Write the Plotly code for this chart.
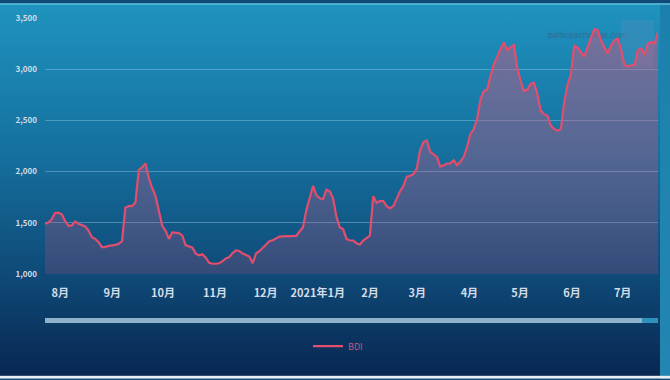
import base64
import pandas as pd
import plotly.graph_objects as go

# ---------------- data ----------------
start_date = "2020-07-23"
end_date = "2021-07-22"
bdi_values = [
    1490, 1503, 1535, 1595, 1600, 1583, 1519, 1471, 1475, 1513, 1490, 1475, 1465, 1423, 1360, 1343,
    1311, 1263, 1263, 1275, 1279, 1285, 1295, 1320, 1647, 1663, 1663, 1700, 2016, 2040, 2080, 1936,
    1840, 1760, 1615, 1471, 1423, 1343, 1407, 1407, 1400, 1375, 1279, 1270, 1257, 1199, 1183, 1192,
    1160, 1109, 1100, 1100, 1105, 1125, 1152, 1165, 1205, 1230, 1225, 1200, 1188, 1170, 1105, 1200,
    1222, 1255, 1290, 1320, 1330, 1345, 1365, 1368, 1370, 1372, 1372, 1372, 1415, 1455, 1620, 1740,
    1860, 1770, 1740, 1730, 1824, 1808, 1740, 1560, 1455, 1439, 1343, 1327, 1327, 1301, 1288, 1327,
    1353, 1375, 1760, 1695, 1712, 1712, 1663, 1641, 1663, 1743, 1808, 1860, 1950, 1960, 1975, 2032,
    2210, 2288, 2304, 2192, 2166, 2144, 2048, 2064, 2077, 2080, 2112, 2064, 2096, 2144, 2240, 2368,
    2416, 2512, 2705, 2785, 2801, 2930, 3050, 3120, 3200, 3260, 3186, 3215, 3234, 3010, 2882, 2785,
    2801, 2859, 2865, 2753, 2593, 2561, 2545, 2449, 2417, 2400, 2417, 2673, 2849, 2950, 3230, 3210,
    3170, 3122, 3218, 3298, 3394, 3380, 3282, 3218, 3154, 3234, 3282, 3298, 3186, 3042, 3026, 3035,
    3042, 3186, 3202, 3138, 3250, 3266, 3250, 3362,
]
dates = pd.date_range(start_date, end_date, periods=len(bdi_values))

month_ticks = ["2020-08-01", "2020-09-01", "2020-10-01", "2020-11-01", "2020-12-01", "2021-01-01",
               "2021-02-01", "2021-03-01", "2021-04-01", "2021-05-01", "2021-06-01", "2021-07-01"]
month_labels = ["8月", "9月", "10月", "11月", "12月", "2021年1月",
                "2月", "3月", "4月", "5月", "6月", "7月"]
y_ticks = [1000, 1500, 2000, 2500, 3000, 3500]
series_name = "BDI"
watermark = "balticexchange.com"

# ---------------- style ----------------
W, H = 670, 380
L, R, T, B = 45, 12, 15, 106
PW, PH = W - L - R, H - T - B
LINE = "#e34d6e"

svg = f"""<svg xmlns='http://www.w3.org/2000/svg' width='{W}' height='{H}' viewBox='0 0 {W} {H}' preserveAspectRatio='none'>
<defs><linearGradient id='g' x1='0' y1='0' x2='0' y2='1'>
<stop offset='0' stop-color='#1f93bf'/>
<stop offset='0.40' stop-color='#15709e'/>
<stop offset='0.72' stop-color='#0f4a78'/>
<stop offset='1' stop-color='#082650'/>
</linearGradient>
<linearGradient id='s' x1='0' y1='0' x2='0' y2='1'>
<stop offset='0' stop-color='#1c80ae'/><stop offset='1' stop-color='#2386b2'/>
</linearGradient></defs>
<rect width='{W}' height='{H}' fill='url(#g)'/>
<rect x='660' width='10' height='{H}' fill='url(#s)'/>
<rect width='{W}' height='1.5' fill='#6cc4e0'/>
<rect y='377' width='{W}' height='3' fill='#e8eef4'/>
<text x='548' y='35' font-size='9' fill='#356a94' font-family='Liberation Sans'>{watermark}</text>
<rect x='621' y='17' width='33' height='48' fill='#4a8fbb' opacity='0.45'/>
</svg>"""
bg_src = "data:image/svg+xml;base64," + base64.b64encode(svg.encode("utf-8")).decode("ascii")

fig = go.Figure()
fig.add_trace(go.Scatter(
    x=dates, y=bdi_values, mode="lines", line=dict(width=0, color=LINE),
    fill="tozeroy",
    fillgradient=dict(type="vertical", start=1000, stop=3500,
                      colorscale=[[0, "rgba(215,80,125,0.18)"], [1, "rgba(225,80,120,0.47)"]]),
    showlegend=False, hoverinfo="skip",
))
fig.add_trace(go.Scatter(
    x=dates, y=bdi_values, mode="lines", name=series_name,
    line=dict(width=2.2, color=LINE, shape="linear"),
))

# slider bar (dataZoom look)
fig.add_shape(type="line", xref="paper", yref="paper", x0=0, x1=1,
              y0=-47 / PH, y1=-47 / PH, line=dict(color="#8fb2cb", width=5))
fig.add_shape(type="line", xref="paper", yref="paper", x0=(642 - L) / PW, x1=1,
              y0=-47 / PH, y1=-47 / PH, line=dict(color="#2f91ba", width=5))

fig.add_layout_image(dict(
    source=bg_src, xref="paper", yref="paper",
    x=-L / PW, y=1 + T / PH, sizex=W / PW, sizey=H / PH,
    xanchor="left", yanchor="top", sizing="stretch", layer="below",
))

fig.update_layout(
    width=W, height=H,
    margin=dict(l=L, r=R, t=T, b=B, pad=0),
    paper_bgcolor="#0f4a78", plot_bgcolor="rgba(0,0,0,0)",
    font=dict(family="Noto Sans CJK SC", color="#d0dbe6"),
    showlegend=True,
    legend=dict(x=(308 - L) / PW, y=(T + PH - 347) / PH, xanchor="left", yanchor="middle",
                orientation="h", bgcolor="rgba(0,0,0,0)",
                font=dict(size=9, color="#c55580", family="Noto Sans CJK SC")),
)
fig.update_xaxes(
    range=[dates[0], dates[-1]], tickmode="array", tickvals=month_ticks, ticktext=month_labels,
    showgrid=False, zeroline=False, showline=False, ticks="",
    tickfont=dict(size=11, color="#d3dce6", family="Noto Sans CJK SC", weight="bold"),
    ticklabelstandoff=11,
)
fig.update_yaxes(
    range=[1000, 3500], tickmode="array", tickvals=y_ticks, tickformat=",",
    showgrid=True, gridcolor="rgba(140,200,232,0.45)", gridwidth=1,
    zeroline=False, showline=False, ticks="",
    tickfont=dict(size=8, color="#d3dce6", family="Noto Sans CJK SC", weight="bold"),
    ticklabelstandoff=7,
)

fig.write_html("out.html", config={"displayModeBar": False},
               post_script="document.body.style.margin='0';")
